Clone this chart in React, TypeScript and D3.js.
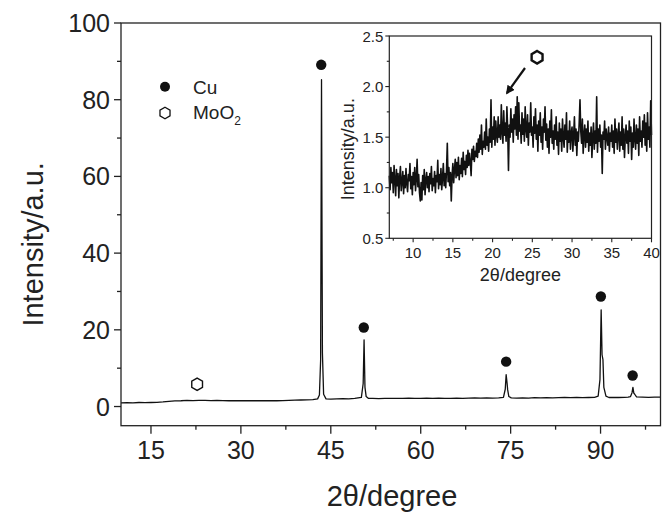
import React from "react";
import * as d3 from "d3";

// ---------- main pattern (2θ vs intensity) ----------
const mainX = [
  10, 11, 12, 13, 14, 15, 16, 17, 18, 19, 20, 21, 22, 23, 24, 25, 26, 27, 28, 29, 30,
  31, 32, 33, 34, 35, 36, 37, 38, 39, 40, 41, 42, 42.8, 43.1, 43.3, 43.45, 43.6, 43.8, 44.2,
  45, 46, 47, 48, 49, 50.1, 50.4, 50.55, 50.7, 50.9, 51.3, 52, 53, 54, 55, 56, 57, 58, 59, 60,
  61, 62, 63, 64, 65, 66, 67, 68, 69, 70, 71, 72, 73, 73.8, 74.1, 74.25, 74.4, 74.5, 74.7, 75.1,
  76, 77, 78, 79, 80, 81, 82, 83, 84, 85, 86, 87, 88, 89, 89.6, 89.9, 90.1, 90.25, 90.4, 90.55,
  90.9, 91.4, 92, 93, 94, 94.6, 95.0, 95.25, 95.4, 95.55, 95.7, 96.0, 97, 98, 99, 100,
];
const mainY = [
  0.95, 1.0, 0.95, 1.05, 1.0, 1.05, 1.1, 1.2, 1.35, 1.45, 1.5, 1.6, 1.55, 1.6, 1.6, 1.55, 1.6, 1.55, 1.5, 1.55, 1.5,
  1.55, 1.5, 1.5, 1.55, 1.5, 1.5, 1.55, 1.6, 1.65, 1.7, 1.75, 1.8, 2.0, 3.0, 12, 85.2, 14, 3.2, 2.0,
  1.95, 2.0, 2.05, 2.0, 2.1, 2.4, 6, 17.4, 5, 2.6, 2.1, 2.1, 2.05, 2.1, 2.15, 2.1, 2.15, 2.2, 2.1, 2.15,
  2.2, 2.15, 2.2, 2.1, 2.15, 2.2, 2.15, 2.2, 2.25, 2.2, 2.25, 2.2, 2.25, 2.4, 4.5, 8.3, 6.2, 4.4, 2.6, 2.25,
  2.2, 2.25, 2.2, 2.3, 2.25, 2.3, 2.25, 2.3, 2.35, 2.3, 2.35, 2.3, 2.35, 2.4, 2.7, 7, 25.2, 13.5, 12.2, 5,
  2.7, 2.35, 2.4, 2.35, 2.4, 2.45, 2.6, 3.6, 5.0, 3.5, 3.2, 2.5, 2.45, 2.4, 2.45, 2.45,
];

const cuMarkX = [43.4, 50.5, 74.25, 90.05, 95.35];
const cuMarkY = [89.1, 20.6, 11.7, 28.7, 8.1];
const mooMarkX = [22.7];
const mooMarkY = [5.8];

const mainXTicks = [15, 30, 45, 60, 75, 90];
const mainXMinor = [22.5, 37.5, 52.5, 67.5, 82.5, 97.5];
const mainYTicks = [0, 20, 40, 60, 80, 100];
const mainYMinor = [10, 30, 50, 70, 90];

const legendNames = ["Cu", "MoO"];

// ---------- inset: amorphous hump, 7.0 .. 40.0 step 0.1 ----------
const insetStart = 7;
const insetStep = 0.1;
const insetY = [
  1.12, 0.98, 1.20, 1.05, 1.15, 0.95, 1.22, 1.08, 0.92, 1.18,
  1.02, 1.14, 0.90, 1.10, 1.21, 0.97, 1.06, 1.16, 0.94, 1.12,
  1.00, 1.19, 1.04, 0.96, 1.13, 1.07, 1.24, 0.99, 1.11, 0.93,
  1.15, 1.03, 1.20, 0.97, 1.09, 1.28, 1.01, 1.13, 0.95, 0.87,
  1.05, 0.88, 1.12, 0.98, 1.18, 0.93, 1.08, 1.15, 1.00, 1.11,
  0.96, 1.14, 1.04, 1.21, 0.97, 1.09, 1.02, 1.16, 0.95, 1.12,
  1.06, 1.27, 0.99, 1.13, 1.03, 1.19, 0.98, 1.10, 1.24, 1.02,
  1.14, 1.00, 1.17, 1.44, 1.06, 1.20, 1.02, 1.15, 0.87, 1.12,
  1.24, 1.05, 1.18, 1.28, 1.10, 1.25, 1.12, 1.30, 1.08, 1.22,
  1.14, 1.29, 1.11, 1.35, 1.18, 1.26, 1.13, 1.32, 1.20, 1.37,
  1.22, 1.34, 1.25, 1.12, 1.38, 1.28, 1.41, 1.26, 1.36, 1.31,
  1.44, 1.30, 1.48, 1.35, 1.52, 1.38, 1.62, 1.33, 1.46, 1.40,
  1.55, 1.38, 1.68, 1.42, 1.50, 1.36, 1.58, 1.45, 1.87, 1.40,
  1.60, 1.48, 1.70, 1.42, 1.66, 1.52, 1.45, 1.70, 1.50, 1.62,
  1.48, 1.82, 1.55, 1.44, 1.76, 1.52, 1.64, 1.46, 1.80, 1.58,
  1.17, 1.62, 1.50, 1.78, 1.55, 1.68, 1.45, 1.72, 1.58, 1.80,
  1.52, 1.90, 1.48, 1.84, 1.56, 1.62, 1.44, 1.74, 1.53, 1.68,
  1.46, 1.80, 1.58, 1.50, 1.72, 1.42, 1.64, 1.55, 1.84, 1.52,
  1.60, 1.40, 1.70, 1.54, 1.78, 1.48, 1.62, 1.36, 1.66, 1.52,
  1.74, 1.45, 1.60, 1.38, 1.68, 1.55, 1.80, 1.47, 1.63, 1.40,
  1.58, 1.34, 1.66, 1.50, 1.77, 1.44, 1.56, 1.38, 1.62, 1.48,
  1.70, 1.42, 1.55, 1.33, 1.64, 1.46, 1.58, 1.36, 1.68, 1.50,
  1.40, 1.62, 1.48, 1.74, 1.35, 1.56, 1.45, 1.66, 1.38, 1.54,
  1.60, 1.36, 1.52, 1.70, 1.42, 1.58, 1.32, 1.55, 1.46, 1.64,
  1.87, 1.56, 1.44, 1.68, 1.34, 1.52, 1.62, 1.40, 1.58, 1.45,
  1.66, 1.36, 1.54, 1.42, 1.60, 1.30, 1.50, 1.64, 1.38, 1.56,
  1.44, 1.90, 1.35, 1.58, 1.46, 1.62, 1.40, 1.52, 1.14, 1.55,
  1.48, 1.66, 1.38, 1.58, 1.50, 1.42, 1.60, 1.36, 1.54, 1.46,
  1.62, 1.40, 1.56, 1.34, 1.68, 1.45, 1.58, 1.38, 1.52, 1.64,
  1.36, 1.55, 1.42, 1.70, 1.38, 1.58, 1.30, 1.50, 1.62, 1.44,
  1.56, 1.34, 1.66, 1.46, 1.60, 1.28, 1.54, 1.40, 1.68, 1.48,
  1.38, 1.62, 1.44, 1.58, 1.32, 1.70, 1.46, 1.56, 1.40, 1.66,
  1.50, 1.72, 1.42, 1.64, 1.36, 1.74, 1.48, 1.60, 1.40, 1.86,
  1.52,
];
const insetXTicks = [10, 15, 20, 25, 30, 35, 40];
const insetXMinor = [7.5, 12.5, 17.5, 22.5, 27.5, 32.5, 37.5];
const insetYTicks = [0.5, 1.0, 1.5, 2.0, 2.5];
const insetYMinor = [0.75, 1.25, 1.75, 2.25];
const insetHexX = [25.6];
const insetHexY = [2.29];

const FONT = "'Liberation Sans', Arial, Helvetica, sans-serif";
const AXIS = "#222";

function hexPath(cx: number, cy: number, r: number) {
  const pts: [number, number][] = [];
  for (let k = 0; k < 6; k++) {
    const a = (-90 + k * 60) * (Math.PI / 180);
    pts.push([cx + r * Math.cos(a), cy + r * Math.sin(a)]);
  }
  return "M" + pts.map((p) => p[0].toFixed(2) + "," + p[1].toFixed(2)).join("L") + "Z";
}

export default function App() {
  const W = 662;
  const H = 512;

  // main scales
  const x = d3.scaleLinear().domain([10, 100]).range([121, 660.5]);
  const y = d3.scaleLinear().domain([-5, 100]).range([425.7, 23]);
  const mainLine = d3
    .line<number>()
    .x((_, i) => x(mainX[i]))
    .y((d) => y(d));

  // inset scales
  const ix = d3.scaleLinear().domain([7, 40]).range([389.3, 651.5]);
  const iy = d3.scaleLinear().domain([0.5, 2.5]).range([238.3, 36]);
  const insetLine = d3
    .line<number>()
    .x((_, i) => ix(insetStart + i * insetStep))
    .y((d) => iy(d));

  const [x0, x1] = x.range();
  const [yb, yt] = y.range();
  const [ix0, ix1] = ix.range();
  const [iyb, iyt] = iy.range();

  const arrowFrom: [number, number] = [525, 68];
  const arrowTo: [number, number] = [507, 93];

  return (
    <svg
      width={W}
      height={H}
      viewBox={`0 0 ${W} ${H}`}
      style={{ position: "absolute", left: 0, top: 0, background: "#fff" }}
      fontFamily={FONT}
    >
      <defs>
        <marker id="ah" viewBox="0 0 10 10" refX="8" refY="5" markerWidth="4" markerHeight="4" orient="auto">
          <path d="M0,0 L10,5 L0,10 Z" fill="#111" />
        </marker>
      </defs>
      <rect x={0} y={0} width={W} height={H} fill="#fff" />

      {/* main data */}
      <path d={mainLine(mainY) || ""} fill="none" stroke="#111" strokeWidth={1.3} strokeLinejoin="round" />

      {/* main frame */}
      <rect x={x0} y={yt} width={x1 - x0} height={yb - yt} fill="none" stroke={AXIS} strokeWidth={1.3} />

      {/* main x ticks */}
      {mainXTicks.map((t) => (
        <g key={"mx" + t}>
          <line x1={x(t)} x2={x(t)} y1={yb} y2={yb + 8} stroke={AXIS} strokeWidth={1.3} />
          <text x={x(t)} y={yb + 33} textAnchor="middle" fontSize={25} fill="#222">
            {t}
          </text>
        </g>
      ))}
      {mainXMinor.map((t) => (
        <line key={"mxm" + t} x1={x(t)} x2={x(t)} y1={yb} y2={yb + 4} stroke={AXIS} strokeWidth={1.3} />
      ))}
      {/* main y ticks */}
      {mainYTicks.map((t) => (
        <g key={"my" + t}>
          <line x1={x0 - 7} x2={x0} y1={y(t)} y2={y(t)} stroke={AXIS} strokeWidth={1.3} />
          <text x={x0 - 11} y={y(t) + 9} textAnchor="end" fontSize={25} fill="#222">
            {t}
          </text>
        </g>
      ))}
      {mainYMinor.map((t) => (
        <line key={"mym" + t} x1={x0 - 4} x2={x0} y1={y(t)} y2={y(t)} stroke={AXIS} strokeWidth={1.3} />
      ))}

      {/* axis titles */}
      <text x={392} y={506} textAnchor="middle" fontSize={29} fill="#222">
        2θ/degree
      </text>
      <text
        transform={`translate(43, ${(yb + yt) / 2 + 20}) rotate(-90)`}
        textAnchor="middle"
        fontSize={29}
        fill="#222"
      >
        Intensity/a.u.
      </text>

      {/* peak markers */}
      {cuMarkX.map((v, i) => (
        <circle key={"cu" + i} cx={x(v)} cy={y(cuMarkY[i])} r={5.2} fill="#111" />
      ))}
      {mooMarkX.map((v, i) => (
        <path key={"moo" + i} d={hexPath(x(v), y(mooMarkY[i]), 6.2)} fill="none" stroke="#111" strokeWidth={1.4} />
      ))}

      {/* legend */}
      <circle cx={165} cy={86.7} r={5} fill="#111" />
      <text x={193} y={94} fontSize={19} fill="#222">
        {legendNames[0]}
      </text>
      <path d={hexPath(165, 113, 5.8)} fill="none" stroke="#111" strokeWidth={1.3} />
      <text x={193} y={119} fontSize={19} fill="#222">
        {legendNames[1]}
        <tspan fontSize={12} dy={6}>
          2
        </tspan>
      </text>

      {/* ---------- inset ---------- */}
      <rect x={ix0} y={iyt} width={ix1 - ix0} height={iyb - iyt} fill="#fff" />
      <path d={insetLine(insetY) || ""} fill="none" stroke="#111" strokeWidth={1.6} strokeLinejoin="round" />
      <rect x={ix0} y={iyt} width={ix1 - ix0} height={iyb - iyt} fill="none" stroke={AXIS} strokeWidth={1.2} />
      {insetXTicks.map((t) => (
        <g key={"ix" + t}>
          <line x1={ix(t)} x2={ix(t)} y1={iyb} y2={iyb + 4} stroke={AXIS} strokeWidth={1.1} />
          <text x={ix(t)} y={iyb + 20} textAnchor="middle" fontSize={15} fill="#222">
            {t}
          </text>
        </g>
      ))}
      {insetXMinor.map((t) => (
        <line key={"ixm" + t} x1={ix(t)} x2={ix(t)} y1={iyb} y2={iyb + 2.5} stroke={AXIS} strokeWidth={1.1} />
      ))}
      {insetYTicks.map((t) => (
        <g key={"iy" + t}>
          <line x1={ix0 - 4} x2={ix0} y1={iy(t)} y2={iy(t)} stroke={AXIS} strokeWidth={1.1} />
          <text x={ix0 - 6} y={iy(t) + 5.5} textAnchor="end" fontSize={15} fill="#222">
            {t.toFixed(1)}
          </text>
        </g>
      ))}
      {insetYMinor.map((t) => (
        <line key={"iym" + t} x1={ix0 - 2.5} x2={ix0} y1={iy(t)} y2={iy(t)} stroke={AXIS} strokeWidth={1.1} />
      ))}
      <text x={(ix0 + ix1) / 2} y={281} textAnchor="middle" fontSize={18} fill="#222">
        2θ/degree
      </text>
      <text
        transform={`translate(354, ${(iyb + iyt) / 2 + 12}) rotate(-90)`}
        textAnchor="middle"
        fontSize={18}
        fill="#222"
      >
        Intensity/a.u.
      </text>
      {insetHexX.map((v, i) => (
        <path key={"ih" + i} d={hexPath(ix(v), iy(insetHexY[i]), 6.3)} fill="none" stroke="#111" strokeWidth={2.4} />
      ))}
      <line
        x1={arrowFrom[0]}
        y1={arrowFrom[1]}
        x2={arrowTo[0]}
        y2={arrowTo[1]}
        stroke="#111"
        strokeWidth={2.2}
        markerEnd="url(#ah)"
      />
    </svg>
  );
}
